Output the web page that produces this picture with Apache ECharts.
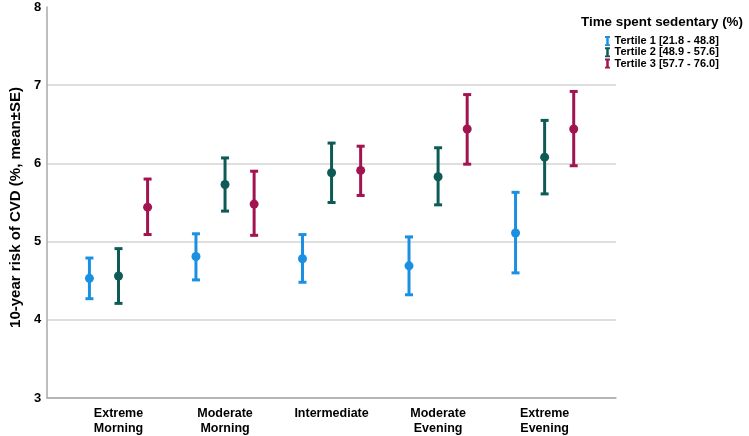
<!DOCTYPE html>
<html>
<head>
<meta charset="utf-8">
<script src="https://cdn.jsdelivr.net/npm/echarts@6/dist/echarts.min.js"></script>
<style>
  html, body { margin: 0; padding: 0; background: #fff; }
  #chart { width: 749px; height: 436px; }
</style>
</head>
<body>
<div id="chart"></div>
<script>
// chronotype groups on the x axis
var categories = ['Extreme\nMorning', 'Moderate\nMorning', 'Intermediate', 'Moderate\nEvening', 'Extreme\nEvening'];
var tertileNames = ['Tertile 1 [21.8 - 48.8]', 'Tertile 2 [48.9 - 57.6]', 'Tertile 3 [57.7 - 76.0]'];
var yTicks = [3, 4, 5, 6, 7, 8];

// mean and mean-SE / mean+SE per group
var t1Mean = [4.53, 4.81, 4.78, 4.69, 5.11];
var t1Low  = [4.27, 4.51, 4.48, 4.32, 4.60];
var t1High = [4.79, 5.10, 5.09, 5.06, 5.63];

var t2Mean = [4.56, 5.73, 5.88, 5.83, 6.08];
var t2Low  = [4.21, 5.39, 5.50, 5.47, 5.61];
var t2High = [4.91, 6.07, 6.26, 6.20, 6.55];

var t3Mean = [5.44, 5.48, 5.91, 6.44, 6.44];
var t3Low  = [5.09, 5.08, 5.59, 5.99, 5.97];
var t3High = [5.80, 5.90, 6.22, 6.88, 6.92];

var colors = ['#1b90e2', '#0e5b56', '#a2144f'];
var dodge = [-0.273, 0, 0.273];

var chart = echarts.init(document.getElementById('chart'));

function errorSeries(idx, low, high) {
    var data = [];
    for (var i = 0; i < categories.length; i++) {
        data.push([i + 1, low[i], high[i]]);
    }
    return {
        name: tertileNames[idx],
        type: 'custom',
        data: data,
        encode: { x: 0, y: [1, 2] },
        renderItem: function (params, api) {
            var x = api.value(0) + dodge[idx];
            var lo = api.coord([x, api.value(1)]);
            var hi = api.coord([x, api.value(2)]);
            var w = 4;
            var style = { stroke: colors[idx], lineWidth: 3 };
            return {
                type: 'group',
                children: [
                    { type: 'line', shape: { x1: lo[0], y1: lo[1], x2: hi[0], y2: hi[1] }, style: style },
                    { type: 'line', shape: { x1: hi[0] - w, y1: hi[1], x2: hi[0] + w, y2: hi[1] }, style: style },
                    { type: 'line', shape: { x1: lo[0] - w, y1: lo[1], x2: lo[0] + w, y2: lo[1] }, style: style }
                ]
            };
        },
        z: 2
    };
}

function meanSeries(idx, mean) {
    var data = [];
    for (var i = 0; i < categories.length; i++) {
        data.push([i + 1 + dodge[idx], mean[i]]);
    }
    return {
        name: tertileNames[idx],
        type: 'scatter',
        data: data,
        symbol: 'circle',
        symbolSize: 9,
        itemStyle: { color: colors[idx], opacity: 1 },
        z: 3
    };
}

var beam = 'path://M0,0H8V3H6V13H8V16H0V13H2V3H0Z';

var option = {
    animation: false,
    color: colors,
    textStyle: { fontFamily: 'Liberation Sans, Arial, sans-serif' },
    title: {
        text: 'Time spent sedentary (%)',
        left: 576,
        top: 11,
        textStyle: { fontSize: 13.4, fontWeight: 'bold', color: '#000' }
    },
    legend: {
        orient: 'vertical',
        left: 600,
        top: 30.5,
        itemGap: 0.3,
        itemWidth: 6,
        itemHeight: 10,
        selectedMode: false,
        textStyle: { fontSize: 11, lineHeight: 11, fontWeight: 'bold', color: '#000', padding: [0, 0, 0, -1] },
        data: tertileNames.map(function (n, i) {
            return { name: n, icon: beam, itemStyle: { color: colors[i] } };
        })
    },
    grid: { left: 42, right: 133, top: 7, bottom: 37.5 },
    xAxis: {
        type: 'value',
        min: 0.33,
        max: 5.67,
        axisLine: { show: true, lineStyle: { color: '#a8a8a8', width: 1.5 } },
        axisTick: { show: false },
        splitLine: { show: false },
        axisLabel: {
            customValues: [1, 2, 3, 4, 5],
            formatter: function (v) { return categories[Math.round(v) - 1]; },
            fontSize: 12.5,
            fontWeight: 'bold',
            color: '#000',
            lineHeight: 15,
            margin: 8
        }
    },
    yAxis: {
        type: 'value',
        min: yTicks[0],
        max: yTicks[yTicks.length - 1],
        interval: 1,
        name: '10-year risk of CVD (%, mean\u00b1SE)',
        nameLocation: 'middle',
        nameGap: 21,
        nameTextStyle: { fontSize: 15, fontWeight: 'bold', color: '#000', padding: [0, 10, 0, 0] },
        axisLine: { show: true, lineStyle: { color: '#a8a8a8', width: 1.5 } },
        axisTick: { show: false },
        axisLabel: { fontSize: 13, fontWeight: 'bold', color: '#000', margin: 6 },
        splitLine: { show: true, showMaxLine: false, lineStyle: { color: '#d4d4d4', width: 1.5 } }
    },
    series: [
        errorSeries(0, t1Low, t1High),
        errorSeries(1, t2Low, t2High),
        errorSeries(2, t3Low, t3High),
        meanSeries(0, t1Mean),
        meanSeries(1, t2Mean),
        meanSeries(2, t3Mean)
    ]
};

chart.setOption(option);
</script>
</body>
</html>
